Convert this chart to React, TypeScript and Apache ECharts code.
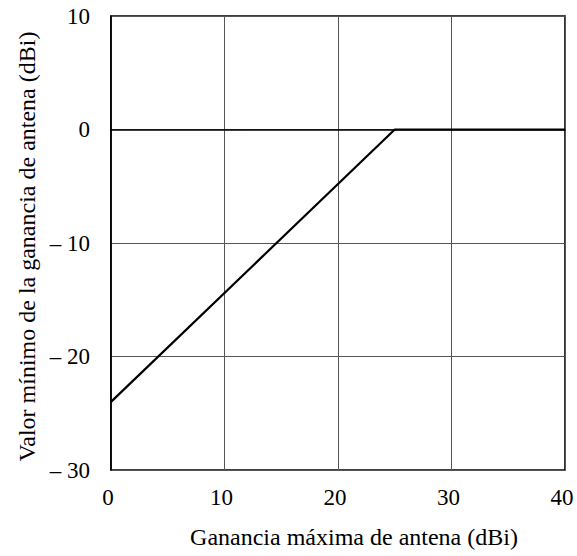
import React, { useEffect, useRef } from "react";
import * as echarts from "echarts";

const xValues = [0, 25, 40];
const yValues = [-24, 0, 0];
const xTicks = [0, 10, 20, 30, 40];
const yTicks = [-30, -20, -10, 0, 10];
const xName = "Ganancia máxima de antena (dBi)";
const yName = "Valor mínimo de la ganancia de antena (dBi)";

const fmt = (v: number) => (v < 0 ? "– " + Math.abs(v) : String(v));

export default function App() {
  const ref = useRef<HTMLDivElement>(null);
  useEffect(() => {
    document.body.style.margin = "0";
    const chart = echarts.init(ref.current!, undefined, { renderer: "svg" });
    const font = "'Liberation Serif', 'Times New Roman', serif";
    chart.setOption({
      animation: false,
      backgroundColor: "#fff",
      grid: {
        left: 111,
        top: 16,
        width: 454,
        height: 454,
        containLabel: false,
        outerBoundsMode: "none",
        show: true,
        borderColor: "#000",
        borderWidth: 1.6,
        backgroundColor: "transparent",
      },
      xAxis: {
        type: "value",
        min: xTicks[0],
        max: xTicks[xTicks.length - 1],
        interval: 10,
        name: xName,
        nameLocation: "middle",
        nameGap: 55,
        nameTextStyle: { fontFamily: font, fontSize: 24, color: "#000", padding: [0, 0, 0, 32] },
        axisLine: { show: true, lineStyle: { color: "#000", width: 1.6 } },
        axisTick: { show: false },
        axisLabel: {
          fontFamily: font,
          fontSize: 23,
          color: "#000",
          margin: 16,
          padding: [0, 6, 0, 0],
          formatter: fmt,
        },
        splitLine: { show: true, lineStyle: { color: "#555", width: 1 } },
      },
      yAxis: {
        type: "value",
        min: yTicks[0],
        max: yTicks[yTicks.length - 1],
        interval: 10,
        name: yName,
        nameLocation: "middle",
        nameGap: 70,
        nameRotate: 90,
        nameTextStyle: { fontFamily: font, fontSize: 24, color: "#000", padding: [0, 7, 0, 0] },
        axisLine: { show: true, lineStyle: { color: "#000", width: 1.6 } },
        axisTick: { show: false },
        axisLabel: {
          fontFamily: font,
          fontSize: 23,
          color: "#000",
          margin: 21,
          padding: [5, 0, 0, 0],
          formatter: fmt,
        },
        splitLine: { show: true, lineStyle: { color: "#555", width: 1 } },
      },
      series: [
        {
          type: "line",
          data: xValues.map((x, i) => [x, yValues[i]]),
          showSymbol: false,
          lineStyle: { color: "#000", width: 2.2 },
        },
      ],
    });
    return () => chart.dispose();
  }, []);
  return <div ref={ref} style={{ width: 577, height: 556 }} />;
}
